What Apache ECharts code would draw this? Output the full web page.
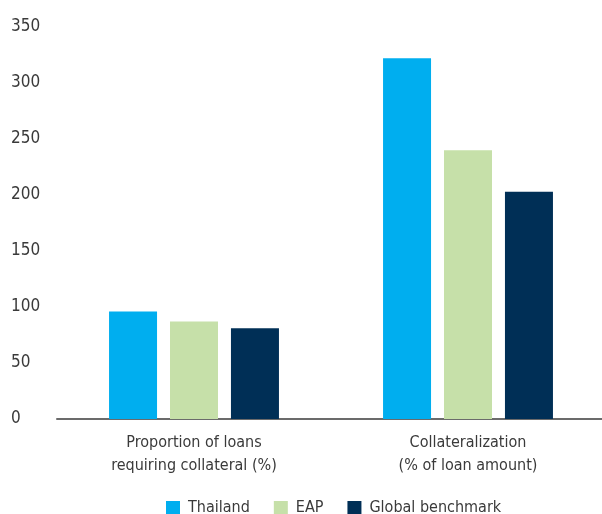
<!DOCTYPE html>
<html>
<head>
<meta charset="utf-8">
<script src="https://cdn.jsdelivr.net/npm/echarts@6/dist/echarts.min.js"></script>
<style>
  html, body { margin: 0; padding: 0; background: #fff; overflow: hidden; }
  #chart { width: 605px; height: 514px; }
</style>
</head>
<body>
<div id="chart"></div>
<script>
// Collateral requirements: Thailand vs. EAP vs. global benchmark
const categories = ['Proportion of loans\nrequiring collateral (%)', 'Collateralization\n(% of loan amount)'];
const thailand = [96, 322];
const eap = [87, 240];
const globalBenchmark = [81, 203];
const yTicks = { min: 0, max: 350, interval: 50 };

const FONT = '"DejaVu Sans Condensed", sans-serif';
const TEXT = '#3a3a3a';

const chart = echarts.init(document.getElementById('chart'), null, { renderer: 'canvas' });

function bar(name, data, color) {
  return {
    name: name,
    type: 'bar',
    data: data,
    barWidth: 48,
    barGap: '27%',
    itemStyle: { color: color },
    emphasis: { disabled: true }
  };
}

chart.setOption({
  animation: false,
  textStyle: { fontFamily: FONT },
  grid: { left: 57, right: 0, top: 27, bottom: 95 },
  xAxis: {
    type: 'category',
    data: categories,
    axisTick: { show: false },
    axisLine: { lineStyle: { color: '#6b6b6b', width: 2 } },
    axisLabel: {
      color: TEXT,
      fontFamily: FONT,
      fontSize: 16,
      lineHeight: 23,
      margin: 12
    }
  },
  yAxis: {
    type: 'value',
    min: yTicks.min,
    max: yTicks.max,
    interval: yTicks.interval,
    splitLine: { show: false },
    axisLine: { show: false },
    axisTick: { show: false },
    axisLabel: {
      color: TEXT,
      fontFamily: FONT,
      fontSize: 17,
      align: 'left',
      margin: 46
    }
  },
  legend: {
    top: 495,
    left: 161,
    itemWidth: 14,
    itemHeight: 14,
    itemGap: 24,
    icon: 'rect',
    textStyle: { color: TEXT, fontFamily: FONT, fontSize: 16, padding: [0, 0, 0, 3] },
    data: ['Thailand', 'EAP', 'Global benchmark']
  },
  series: [
    bar('Thailand', thailand, '#00AEEF'),
    bar('EAP', eap, '#C6E0A9'),
    bar('Global benchmark', globalBenchmark, '#002F56')
  ]
});
</script>
</body>
</html>
